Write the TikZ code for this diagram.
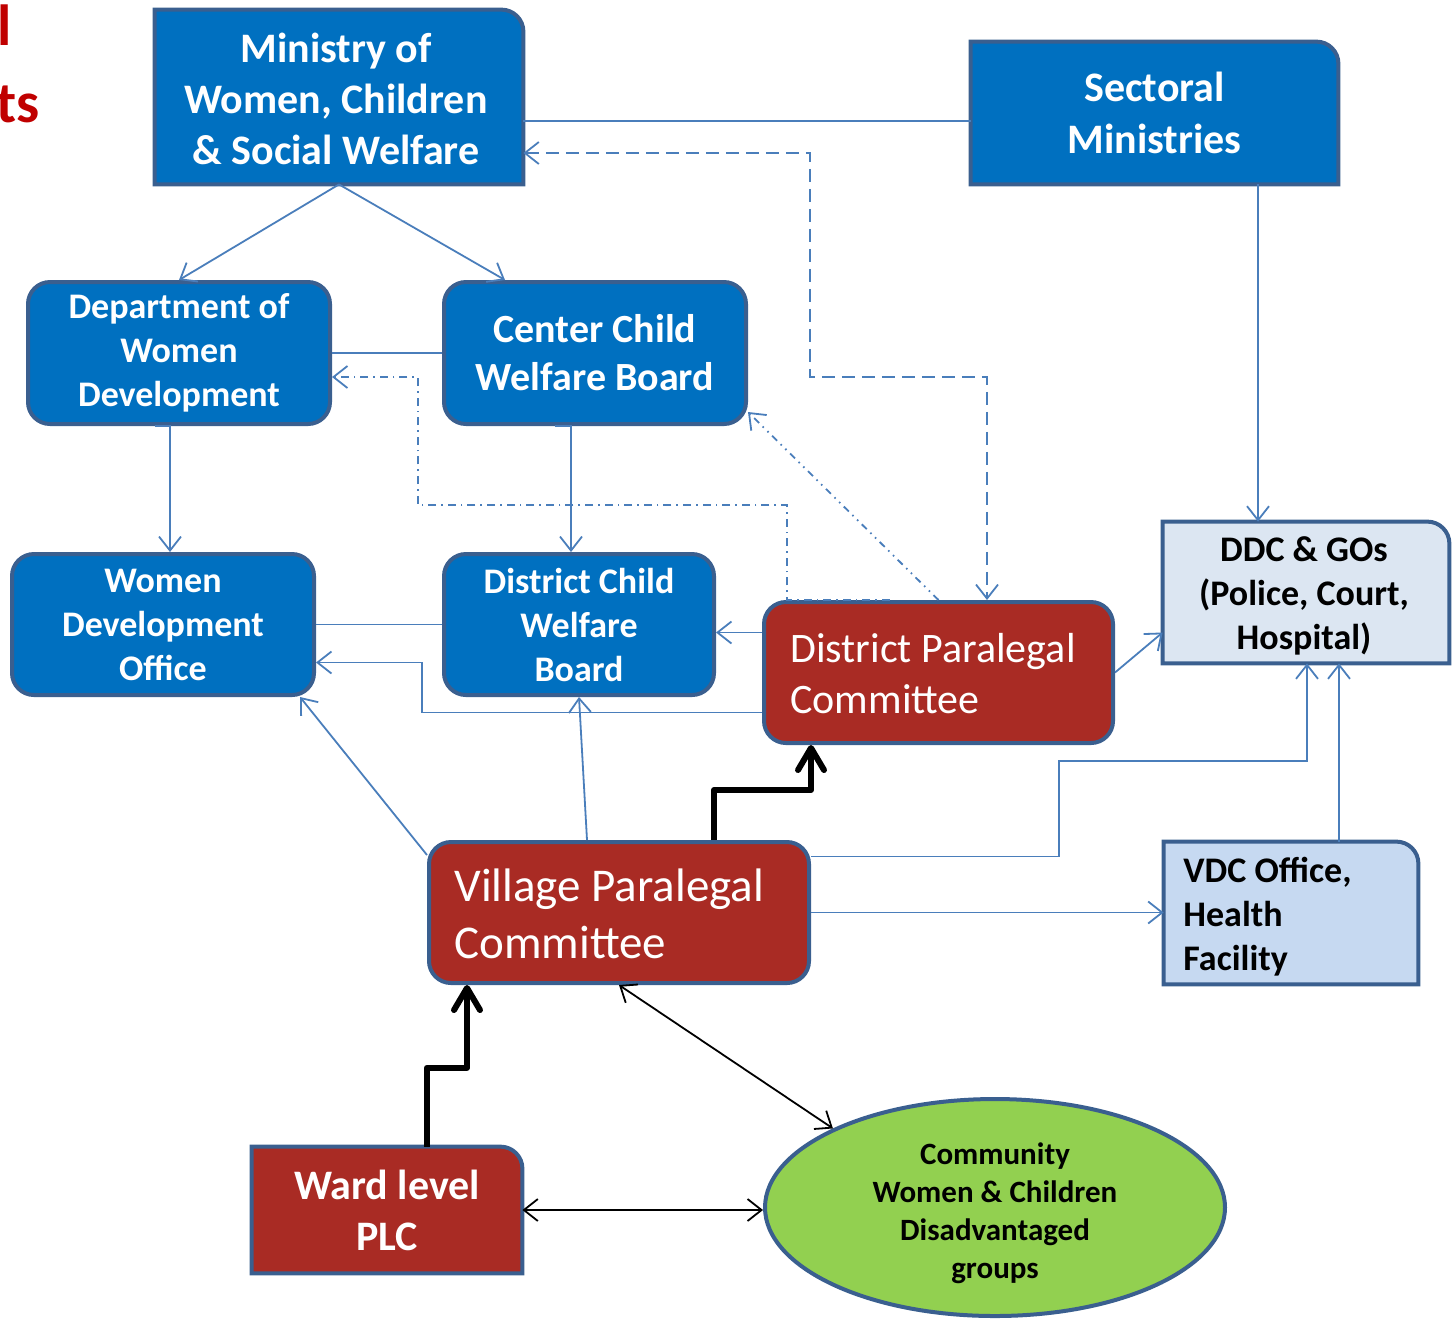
\documentclass[tikz,border=0pt]{standalone}
\usepackage{fontspec}
\setmainfont{Carlito}
\usetikzlibrary{arrows.meta,shapes.geometric,backgrounds}
\definecolor{bfill}{HTML}{0070C0}
\definecolor{bord}{HTML}{3A5F8F}
\definecolor{conn}{HTML}{4A7EBB}
\definecolor{rfill}{HTML}{A92B24}
\definecolor{gfill}{HTML}{92D050}
\definecolor{ddcfill}{HTML}{DCE6F2}
\definecolor{vdcfill}{HTML}{C6D9F1}
\definecolor{ttl}{HTML}{C00000}
\newcommand\rcshape[2]{\draw[#2] (#1.south west) -- (#1.north west) -- ([xshift=-11pt]#1.north east) arc[start angle=90,end angle=0,radius=11pt] -- (#1.south east) -- cycle;}
\newcommand\fsz[2]{\fontsize{#1pt}{#2pt}\selectfont}
\begin{document}
\begin{tikzpicture}[x=0.5pt,y=-0.5pt,
  rbox/.style={draw=bord, line width=2pt, rounded corners=11pt, fill=bfill, text=white, align=center, inner sep=0pt},
  redbox/.style={draw=bord, line width=2pt, rounded corners=11pt, fill=rfill, inner sep=0pt},
  plain/.style={inner sep=0pt, align=center},
  bshape/.style={draw=bord, line width=2pt, fill=bfill},
  rshape/.style={draw=bord, line width=2pt, fill=rfill},
  ddcshape/.style={draw=bord, line width=2pt, fill=ddcfill},
  vdcshape/.style={draw=bord, line width=2pt, fill=vdcfill},
  ltext/.style={inner sep=0pt, align=left, anchor=west},
  tip/.tip={Straight Barb[length=7pt,width=11pt]},
  link/.style={draw=conn, line width=0.9pt},
  arr/.style={link, -tip},
  blk/.style={black, line width=0.9pt, tip-tip},
  thk/.style={black, line width=3pt, line join=round, -{Straight Barb[length=11pt,width=13pt,line cap=round,line join=round]}},
  dsh/.style={dash pattern=on 6.5pt off 3.5pt},
  dshdot/.style={dash pattern=on 4pt off 2.5pt on 0.8pt off 2.5pt},
  dshdotdot/.style={dash pattern=on 3.5pt off 2.5pt on 0.8pt off 2.5pt on 0.8pt off 2.5pt}
]
\useasboundingbox (0,0) rectangle (1455,1319);

% title fragments
\node[inner sep=0pt, anchor=base east, text=ttl, font=\fsz{29}{35}\bfseries] (t1) at (12,45) {l};
\node[inner sep=0pt, anchor=base east, text=ttl, font=\fsz{29}{35}\bfseries] (t2) at (40,122) {ts};

% boxes
\node[plain, minimum width=184pt, minimum height=87pt] (mw) at (339,97) {};
\node[plain, text=white, font=\fsz{21}{25.6}\bfseries] (mwt) at (336,99) {Ministry of\\Women, Children\\\& Social Welfare};
\node[plain, text=white, font=\fsz{21}{25.6}\bfseries, minimum width=183.5pt, minimum height=71pt] (sm) at (1154.5,113) {Sectoral\\Ministries};
\node[rbox, font=\fsz{18}{22}\bfseries, minimum width=151pt, minimum height=71pt] (dwd) at (179,353) {Department of\\Women\\Development};
\node[rbox, font=\fsz{20}{24}\bfseries, minimum width=151pt, minimum height=71pt] (ccwb) at (595,353) {Center Child\\Welfare Board};
\node[rbox, font=\fsz{18}{22}\bfseries, minimum width=151pt, minimum height=70.5pt] (wdo) at (163,624.5) {Women\\Development\\Office};
\node[rbox, font=\fsz{18}{22}\bfseries, minimum width=135pt, minimum height=70.5pt] (dcwb) at (579,624.5) {District Child\\Welfare\\Board};
\node[redbox, minimum width=174.5pt, minimum height=70.5pt] (dpc) at (938.5,672.5) {};
\node[ltext, text=white, font=\fsz{21}{25.5}] (dpct) at (790,674) {District Paralegal\\Committee};
\node[plain, minimum width=143pt, minimum height=70.5pt] (ddc) at (1306,592.5) {};
\node[plain, text=black, font=\fsz{18}{22}\bfseries] (ddct) at (1304,596) {DDC \& GOs\\(Police, Court,\\Hospital)};
\node[plain, minimum width=127pt, minimum height=71pt] (vdc) at (1291,913) {};
\node[ltext, text=black, font=\fsz{18}{22}\bfseries] (vdct) at (1183,917) {VDC Office,\\Health\\Facility};
\node[redbox, minimum width=190pt, minimum height=70.5pt] (vpc) at (619,912.5) {};
\node[ltext, text=white, font=\fsz{23.5}{28.5}] (vpct) at (454,914) {Village Paralegal\\Committee};
\node[plain, text=white, font=\fsz{21}{25.5}\bfseries, minimum width=135pt, minimum height=63pt] (ward) at (387,1210) {Ward level\\PLC};
\node[ellipse, draw=bord, line width=2pt, fill=gfill, inner sep=0pt, minimum width=230pt, minimum height=108.5pt] (ell) at (995,1207.5) {};
\node[plain, text=black, font=\fsz{15.5}{19}\bfseries] (ellt) at (995,1213) {Community\\Women \& Children\\Disadvantaged\\groups};

\begin{scope}[on background layer]
  \rcshape{mw}{bshape}
  \rcshape{sm}{bshape}
  \rcshape{ddc}{ddcshape}
  \rcshape{vdc}{vdcshape}
  \rcshape{ward}{rshape}
\end{scope}

% solid links
\draw[arr] (mw.south) -- (dwd.north);
\draw[arr] (mw.south) -- ([xshift=-45pt]ccwb.north);
\draw[link] ([yshift=-12pt]mw.east) -- ([yshift=-12pt]mw.east -| sm.west);
\draw[link] (dwd.east) -- (ccwb.west);
\draw[arr] ([xshift=-12pt]dwd.south) -| ([xshift=3.5pt]wdo.north);
\draw[arr] ([xshift=-20pt]ccwb.south) -| ([xshift=-4pt]dcwb.north);
\draw[link] (wdo.east) -- (dcwb.west);
\draw[arr] ([yshift=20pt]dpc.west) -- ([yshift=20pt]dpc.west -| dcwb.east);
\draw[arr] ([yshift=-20pt]dpc.west) -| ([xshift=53pt,yshift=-19pt]wdo.east) -- ([yshift=-19pt]wdo.east);
\draw[arr] ([xshift=51.75pt]sm.south) -- ([xshift=51.75pt]sm.south |- ddc.north);
\draw[arr] (dpc.east) -- ([yshift=-20pt]ddc.west);
\draw[arr] ([yshift=-7.5pt]vpc.north west) -- ([xshift=-8pt]wdo.south east);
\draw[arr] ([xshift=-16pt]vpc.north) -- (dcwb.south);
\draw[arr] ([yshift=28pt]vpc.east) -| (1059,761) -| ([xshift=0.5pt]ddc.south);
\draw[arr] ([xshift=24pt]vdc.north) -- ([xshift=24pt]vdc.north |- ddc.south);
\draw[arr] (vpc.east) -- (vpc.east -| vdc.west);

% thick black
\draw[thk] ([xshift=47.5pt]vpc.north) -- ++(0,25pt) -| ([xshift=-63.75pt]dpc.south);
\draw[thk] ([xshift=20pt]ward.north) -- ++(0,39.5pt) -| ([xshift=-76pt]vpc.south);

% black double arrows
\draw[blk] (vpc.south) -- (ell.154);
\draw[blk] (ward.east) -- (ward.east -| ell.west);

% dashed / dash-dot links
\draw[link, dsh, tip-tip] ([yshift=-28pt]mw.east) -- (810,153) -- (810,377) -- (987,377) -- ([xshift=24.25pt]dpc.north);
\draw[link, dshdot, -tip] ([xshift=64pt]dpc.north west) -- (787,600) -- (787,505) -- (418,505) -- (418,377) -- ([yshift=-12pt]dwd.east);
\draw[link, dshdotdot, -tip] (dpc.north) -- ([yshift=7pt]ccwb.south east);
\end{tikzpicture}
\end{document}
